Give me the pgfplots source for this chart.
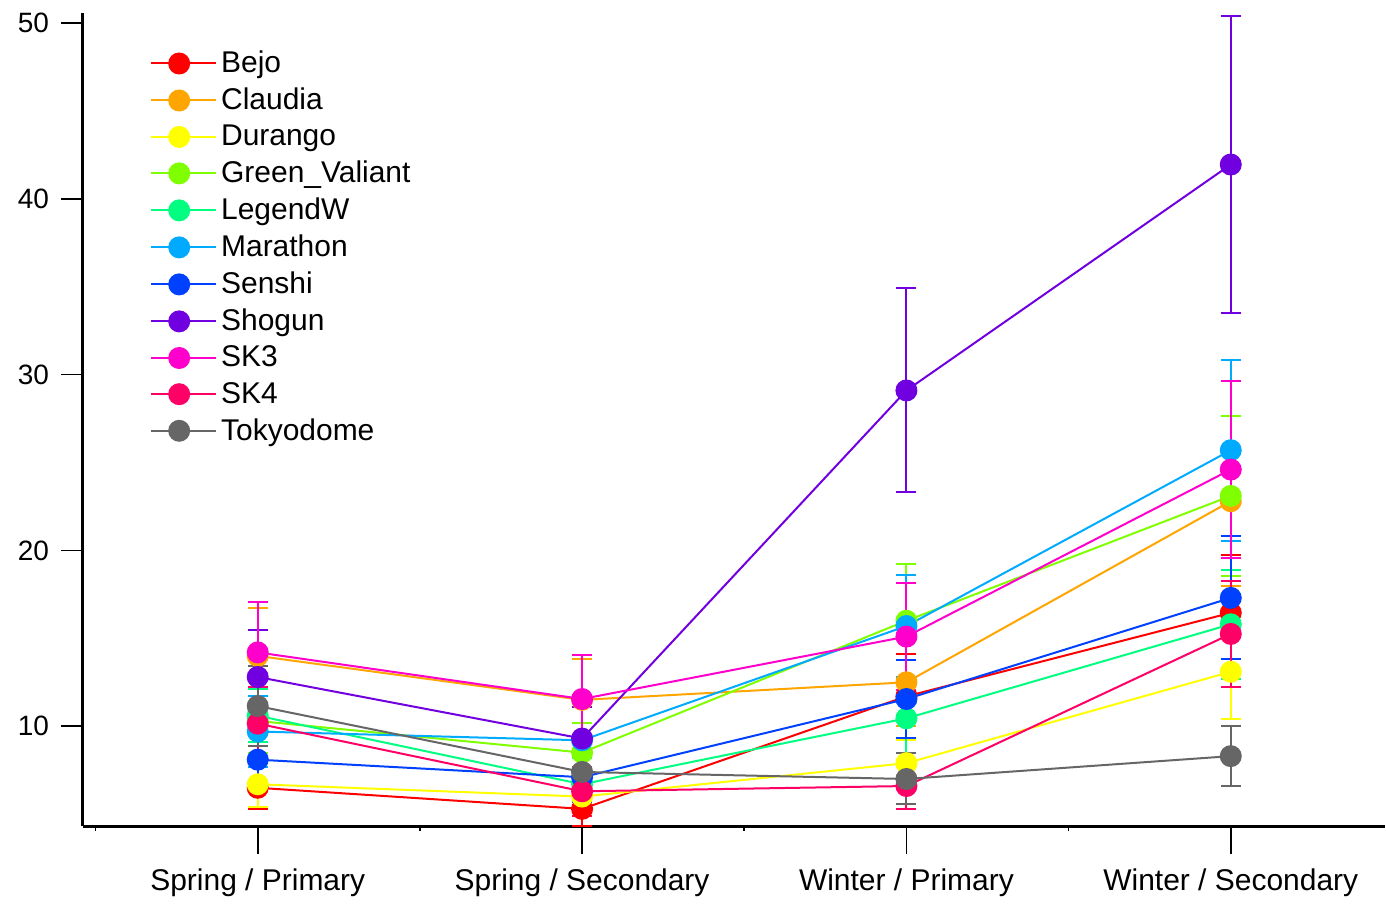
\documentclass[border=0pt]{standalone}
\usepackage{fontspec}
\setmainfont{Liberation Sans}
\usepackage{pgfplots}
\pgfplotsset{compat=1.18}
\definecolor{cBejo}{HTML}{FF0000}
\definecolor{cClaudia}{HTML}{FFA500}
\definecolor{cDurango}{HTML}{FFFF00}
\definecolor{cGreenV}{HTML}{80FF00}
\definecolor{cLegendW}{HTML}{00FF80}
\definecolor{cMarathon}{HTML}{00AAFF}
\definecolor{cSenshi}{HTML}{0040FF}
\definecolor{cShogun}{HTML}{7000E0}
\definecolor{cSKiii}{HTML}{FF00CC}
\definecolor{cSKiv}{HTML}{FF0066}
\definecolor{cTokyo}{HTML}{666666}
\begin{document}
\begin{tikzpicture}
\begin{axis}[
  scale only axis,
  width=651.5pt, height=407pt,
  xmin=-0.539, xmax=3.474,
  ymin=4.32, ymax=50.57,
  axis x line=bottom, axis y line=left,
  axis line style={line width=1.5pt,-},
  xtick={0,1,2,3},
  xticklabels={Spring / Primary, Spring / Secondary, Winter / Primary, Winter / Secondary},
  minor xtick={-0.5,0.5,1.5,2.5},
  ytick={10,20,30,40,50},
  tick align=outside,
  major tick length=14pt,
  minor tick length=2.5pt,
  y tick style={/pgfplots/major tick length=11pt},
  tick style={black,line width=0.8pt},
  /pgf/number format/assume math mode=true,
  xticklabel style={yshift=-4pt, font=\fontsize{15}{18}\selectfont},
  yticklabel style={xshift=0.5pt, font=\fontsize{14}{16.8}\selectfont},
  legend style={draw=none, fill=none, at={(0.0468,0.9634)}, anchor=north west,
    font=\fontsize{15}{18}\selectfont, row sep=2.15pt},
  legend cell align=left,
  legend image code/.code={\path (0pt,0pt) -- (32.5pt,0pt);\draw[mark repeat=2,mark phase=2,#1] plot coordinates {(0pt,0pt) (14pt,0pt) (28pt,0pt)};},
  every axis plot/.append style={line width=1pt, mark=*, mark size=5pt,
     mark options={solid}},
  error bars/y dir=both, error bars/y explicit,
  error bars/error mark options={rotate=90, mark size=5pt, line width=1pt},
  error bars/error bar style={line width=1pt},
]
\addplot[color=cBejo] coordinates {(0,6.5) +- (0,1.2) (1,5.3) +- (0,1.0) (2,11.7) +- (0,2.4) (3,16.45) +- (0,3.3)};
\addlegendentry{Bejo}
\addplot[color=cClaudia] coordinates {(0,14.0) +- (0,2.75) (1,11.5) +- (0,2.35) (2,12.5) +- (0,2.5) (3,22.8) +- (0,4.85)};
\addlegendentry{Claudia}
\addplot[color=cDurango] coordinates {(0,6.7) +- (0,1.3) (1,6.0) +- (0,0.8) (2,7.9) +- (0,1.3) (3,13.1) +- (0,2.7)};
\addlegendentry{Durango}
\addplot[color=cGreenV] coordinates {(0,10.3) +- (0,1.8) (1,8.5) +- (0,1.7) (2,16.0) +- (0,3.25) (3,23.1) +- (0,4.55)};
\addlegendentry{Green\_Valiant}
\addplot[color=cLegendW] coordinates {(0,10.6) +- (0,1.5) (1,6.7) +- (0,1.5) (2,10.45) +- (0,2.0) (3,15.8) +- (0,3.1)};
\addlegendentry{LegendW}
\addplot[color=cMarathon] coordinates {(0,9.7) +- (0,2.0) (1,9.2) +- (0,2.2) (2,15.7) +- (0,2.9) (3,25.7) +- (0,5.15)};
\addlegendentry{Marathon}
\addplot[color=cSenshi] coordinates {(0,8.1) +- (0,1.6) (1,7.1) +- (0,1.4) (2,11.55) +- (0,2.2) (3,17.3) +- (0,3.5)};
\addlegendentry{Senshi}
\addplot[color=cShogun] coordinates {(0,12.8) +- (0,2.7) (1,9.3) +- (0,1.8) (2,29.1) +- (0,5.8) (3,41.95) +- (0,8.45)};
\addlegendentry{Shogun}
\addplot[color=cSKiii] coordinates {(0,14.2) +- (0,2.85) (1,11.55) +- (0,2.5) (2,15.1) +- (0,3.05) (3,24.6) +- (0,5.05)};
\addlegendentry{SK3}
\addplot[color=cSKiv] coordinates {(0,10.15) +- (0,2.1) (1,6.3) +- (0,1.4) (2,6.6) +- (0,1.3) (3,15.25) +- (0,3.0)};
\addlegendentry{SK4}
\addplot[color=cTokyo] coordinates {(0,11.15) +- (0,2.3) (1,7.4) +- (0,1.65) (2,7.0) +- (0,1.45) (3,8.3) +- (0,1.7)};
\addlegendentry{Tokyodome}
\end{axis}
\path ([xshift=-41.5pt,yshift=-35.5pt]current axis.south west) rectangle ([yshift=6.5pt]current axis.north east);
\end{tikzpicture}
\end{document}
